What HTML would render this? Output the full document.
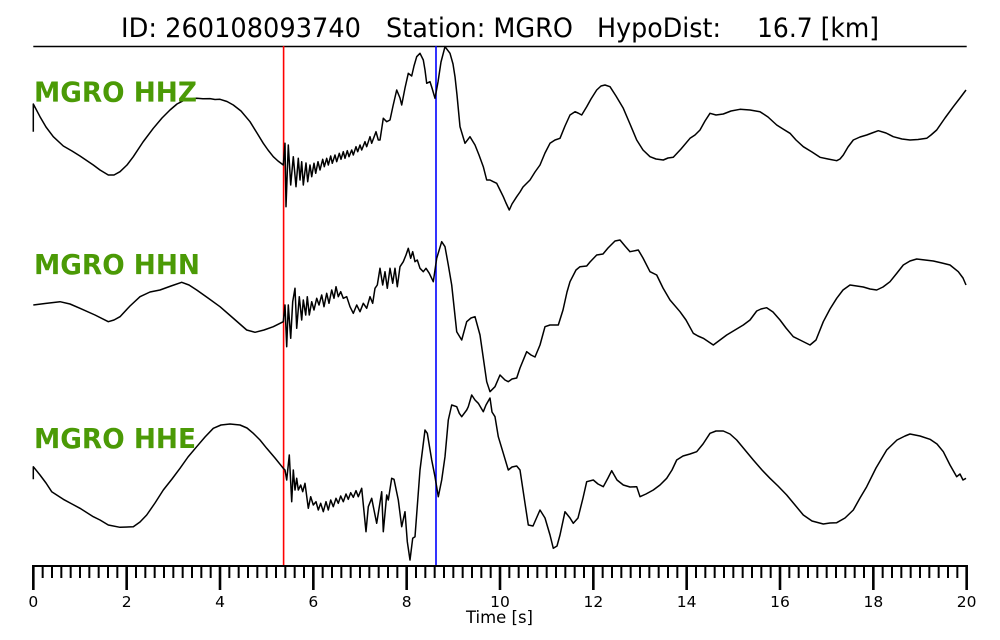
<!DOCTYPE html>
<html><head><meta charset="utf-8"><style>
html,body{margin:0;padding:0;background:#fff;}
svg{display:block;}
text{font-family:"DejaVu Sans","Liberation Sans",sans-serif;}
</style></head><body>
<svg width="1000" height="640" viewBox="0 0 1000 640" xmlns="http://www.w3.org/2000/svg">
<rect width="1000" height="640" fill="#fff"/>
<!-- title -->
<g font-size="27" fill="#000">
<text x="121" y="37" textLength="240" lengthAdjust="spacingAndGlyphs">ID: 260108093740</text>
<text x="386" y="37" textLength="187" lengthAdjust="spacingAndGlyphs">Station: MGRO</text>
<text x="597" y="37" textLength="124" lengthAdjust="spacingAndGlyphs">HypoDist:</text>
<text x="757" y="37" textLength="122" lengthAdjust="spacingAndGlyphs">16.7 [km]</text>
</g>
<line x1="33.3" y1="46.5" x2="966.7" y2="46.5" stroke="#000" stroke-width="1.5"/>

<!-- picks -->
<line x1="283.6" y1="46" x2="283.6" y2="566" stroke="#ff0000" stroke-width="1.6"/>
<line x1="436" y1="46" x2="436" y2="566" stroke="#0000ff" stroke-width="1.6"/>

<g fill="none" stroke="#000" stroke-width="1.5" stroke-linejoin="round">
<!-- HHZ -->
<path d="M33.3,131.7 L33.3,104 L40,116.7 L46,127 L53.3,136.7 L63.3,146 L72,151 L80,156 L93.3,165 L100,170 L108.3,175 L114,175 L120,171.7 L127,165 L133.3,156.7 L143,142 L153.3,128.3 L162,118 L170,110 L177,104 L183.3,100.7 L190,99 L196.7,98.3 L203,98.8 L210,98.6 L215,99.5 L220,99.3 L227,101.5 L233.3,105 L241,111 L250,121.7 L257,133 L263.3,143.3 L268,150 L273.3,156.7 L278,161 L283.3,165
L285,143.3 L286,206.7 L288.3,145 L290.7,185 L293.3,156.7 L296,186.7 L298.3,158.3 L300,180 L301.7,161.7 L303.3,185 L306,163 L307.7,181.7 L310,165 L311.7,176.7 L314,163.3 L315.7,173.3 L318,161.7 L320,170 L322.7,159.3 L324.3,166.7 L326.7,158.3 L328.3,165 L330.7,156 L332.3,163.3 L335,155 L336.7,161.7 L339.3,153.3 L341,159.3 L343.3,151.7 L345,158.3 L347.3,150.7 L349,156.7 L351.7,150 L353.3,155 L356,146.7 L357.7,151.7 L360,145 L361.7,150 L365,141.7 L366.7,146.7 L370,136.7 L371.7,143.3 L376,131.7 L378.3,140 L380,140 L383.3,118.3 L386.7,121.7 L390,120 L393,106 L396.7,90 L400,98 L401.7,105 L405,88 L408.3,73.3 L411.7,76 L414,66 L416.7,56.7 L420,53.3 L423.3,60 L425,70 L426.7,83.3 L430,81.7 L432,88 L435,98.3 L438,82 L441,62 L445,46.7 L450,53.3 L453,64 L455,76.7 L457,95 L460,126.7 L465,143.3 L470,136.7 L475,145 L479,155 L483.3,166.7 L486.7,180 L490,180 L493.3,181.7 L496.7,183.3 L500,190 L503.3,196.7 L506,203 L509.3,210 L512,204 L516.7,196.7 L520,192 L523,187 L526,184 L530,180 L535,172 L540,165 L545,153 L550,143.3 L555,140 L560,138.3 L565,126 L570,115 L575,111.7 L578,113 L581.7,115 L586.7,106.7 L591,99 L596.7,90 L601,86 L605,85 L610,86.7 L616,96 L623.3,108.3 L630,124 L636.7,140 L643,150 L650,156.7 L656,159 L663.3,160 L668,158 L673.3,157.3 L681,149 L690,138.3 L695,135 L700,130 L705,121 L710,113.3 L716,115 L723.3,114 L731,111 L740,109.3 L750,110 L760,111.7 L768,117 L776.7,125 L783,129 L790,133.3 L796,140 L803.3,146.7 L812,152 L820,157.3 L828,159 L836.7,160.7 L840,159 L843.3,155 L848,147 L853.3,140 L860,137 L866.7,135 L872,133 L878.3,130.7 L886,133 L893.3,136.7 L902,139 L910,140 L918,139.5 L926.7,138.3 L931,135 L936.7,130 L945,118 L953.3,106.7 L960,98 L966,90"/>
<!-- HHN -->
<path d="M33.3,305 L45,303.5 L60,301.7 L70,304 L80,308.3 L95,315 L108.3,321.7 L114,320 L120,316.7 L130,306 L140,296.7 L150,292 L160,290 L171,286 L181.7,282.3 L189,285 L196.7,290 L208,298 L220,306.7 L233,318 L246.7,330 L255,332.3 L264,330 L273.3,326.7 L283.3,321.7
L285,305 L286.7,346.7 L288.3,305 L290.7,338.3 L292.7,301.7 L295,288.3 L296.7,328.3 L299.3,296.7 L301.7,320 L303.3,300 L305.7,315 L307.3,296.7 L309.3,315 L311.7,301.7 L314,310 L316.7,298.3 L319,305 L321.7,295 L324,306.7 L326.7,293.3 L329,303.3 L331.7,290 L334,298.3 L336,286.7 L338.3,296.7 L340.7,291.7 L343.3,298.3 L346.7,296.7 L350,306.7 L353.3,313.3 L356.7,305 L360,311.7 L363.3,303.3 L366.7,308.3 L370,296.7 L372.7,303.3 L375,288.3 L377.3,285 L380,268.3 L382.7,285 L385,271.7 L387.3,288.3 L390,268.3 L392.7,283.3 L395,268.3 L397.3,286.7 L400,266.7 L403.3,261.7 L406,255 L408.3,248.3 L410.7,258.3 L412.7,251.7 L415,261.7 L417.3,260 L420,268.3 L423.3,271.7 L426,268.3 L429.3,273.3 L433.3,281.7 L436.7,258.3 L441.7,241.7 L445,246.7 L448.3,265 L451.7,285 L456.7,331.7 L461.7,340 L466.7,321.7 L471,318 L475,316.7 L480,335 L483.3,358 L486.7,381.7 L490,391.7 L495,386.7 L500,375 L505,380 L508.3,381.7 L512,379 L516.7,378 L520,368 L526.7,351.7 L531,355 L535,357 L540,345 L545,326.7 L550,325 L558.3,325 L563,310 L567,292 L570,281.7 L576,270 L580,266.7 L586.7,266 L590,262 L596.7,255 L603,254 L608,248 L615,241 L620,240 L625,246 L630,251.7 L638.3,250 L643,258 L650,271.7 L656.7,275 L663,288 L670,300 L680,311.7 L686,320 L693.3,333.3 L698,336 L703.3,338.3 L713.3,345 L720,340 L726.7,335 L735,330 L743.3,325 L750,320 L756.7,311 L761,309 L766.7,307.7 L773,312 L780,320 L786,328 L793.3,336.7 L800,340 L810,345 L816,340 L823.3,321.7 L830,309 L836.7,298.3 L843,290 L850,285 L856.7,286 L863.3,287 L870,289 L876.7,290 L883,287 L890,281.7 L897,273 L903.3,265 L910,261 L916.7,259 L925,260 L933.3,261 L942,263 L950,265 L958.3,271.7 L963,278 L966,285"/>
<!-- HHE -->
<path d="M33.3,479.3 L33.3,466.7 L40,475 L46,483 L51.7,491.7 L63.3,499.3 L72,504 L80,508.3 L93.3,516.7 L100,520 L108.3,525 L120,527.3 L133.3,526.7 L140,522 L146.7,515 L155,503 L163.3,490 L172,479 L180,468.3 L188,457 L196.7,446.7 L205,437 L213.3,428.3 L221,425 L230,424 L240,425 L247,428 L253.3,433.3 L260,440 L266.7,448.3 L275,458 L283.3,468.3
L285,470 L286.7,480 L289.3,455 L291.7,501.7 L293.3,470 L295,490 L296.7,478.3 L298.3,490 L300.7,485 L302.7,491.7 L305,483.3 L308.3,508.3 L310.7,496.7 L313.3,505 L316,501.7 L318.3,510 L320.7,503.3 L323.3,511.7 L326,501.7 L328.3,510 L330.7,500 L333.3,506.7 L336,498.3 L338.3,503.3 L340.7,496 L343.3,501.7 L346,494 L348.3,499.3 L350.7,492.7 L353.3,497.3 L356,490.7 L358.3,496.7 L361.7,488.3 L366,531.7 L368.3,506.7 L371.7,498.3 L374,510 L376.7,523.3 L381.7,491.7 L383.3,531.7 L386.7,495 L388.3,500 L391.7,478.3 L394,479.3 L398.3,500 L401.7,526.7 L405,511.7 L407.3,541.7 L410,560 L412.7,538.3 L415,536.7 L420,470 L425,430 L427.3,433.3 L431.7,460 L435,476.7 L438.3,496.7 L441.7,480 L445,456.7 L448.3,420 L451.7,405 L456.7,406.7 L459.3,413.3 L461.7,416.7 L466.7,410 L468.3,406.7 L471.7,395 L475,400 L478.3,403.3 L483.3,411.7 L486,405 L490,398 L492,412 L495,416.7 L498.3,436.7 L503.3,453.3 L508.3,470 L512,467 L516.7,466 L520,470 L525,503.3 L528.3,525 L533,526 L540,510 L545,518 L550,535 L553.3,548.3 L557,546 L560,535 L565,511.7 L570,518 L573.3,523.3 L578,518 L583,498 L586.7,481.7 L593.3,480 L598,484 L603.3,486.7 L608,478 L611.7,470.7 L617,480 L623.3,485 L630,487 L636.7,486.7 L640,496.7 L646,494 L653.3,490 L660,485 L666.7,478.3 L672,470 L676.7,460 L683,456 L690,454 L696.7,451.7 L703,444 L710,433.3 L716,431 L723.3,431 L730,434 L736.7,440 L745,450 L753.3,460 L762,470 L770,478.3 L778,486 L786.7,495 L795,505 L803.3,515 L812,521 L823.3,524 L830,523 L836.7,522.7 L845,518 L853.3,510 L860,498 L866.7,486.7 L876,468 L886.7,450 L897,440 L905,436 L910,434 L920,436 L930,439.3 L937,444 L943.3,451.7 L950,465 L956.7,476.7 L960,474 L963,480 L966,478.3"/>
</g>

<!-- channel labels -->
<g font-size="28" font-weight="bold" fill="#4b9a06">
<text x="34" y="101.5" textLength="163" lengthAdjust="spacingAndGlyphs">MGRO HHZ</text>
<text x="34" y="274" textLength="166" lengthAdjust="spacingAndGlyphs">MGRO HHN</text>
<text x="34" y="448" textLength="162" lengthAdjust="spacingAndGlyphs">MGRO HHE</text>
</g>

<!-- time axis -->
<line x1="32.3" y1="566" x2="967.7" y2="566" stroke="#000" stroke-width="2"/>
<path stroke="#000" stroke-width="2" fill="none" d="M42.67,566V578M52,566V578M61.33,566V578M70.67,566V578M80,566V578M89.33,566V578M98.67,566V578M108,566V578M117.33,566V578
M136,566V578M145.33,566V578M154.67,566V578M164,566V578M173.33,566V578M182.67,566V578M192,566V578M201.33,566V578M210.67,566V578
M229.33,566V578M238.67,566V578M248,566V578M257.33,566V578M266.67,566V578M276,566V578M285.33,566V578M294.67,566V578M304,566V578
M322.67,566V578M332,566V578M341.33,566V578M350.67,566V578M360,566V578M369.33,566V578M378.67,566V578M388,566V578M397.33,566V578
M416,566V578M425.33,566V578M434.67,566V578M444,566V578M453.33,566V578M462.67,566V578M472,566V578M481.33,566V578M490.67,566V578
M509.33,566V578M518.67,566V578M528,566V578M537.33,566V578M546.67,566V578M556,566V578M565.33,566V578M574.67,566V578M584,566V578
M602.67,566V578M612,566V578M621.33,566V578M630.67,566V578M640,566V578M649.33,566V578M658.67,566V578M668,566V578M677.33,566V578
M696,566V578M705.33,566V578M714.67,566V578M724,566V578M733.33,566V578M742.67,566V578M752,566V578M761.33,566V578M770.67,566V578
M789.33,566V578M798.67,566V578M808,566V578M817.33,566V578M826.67,566V578M836,566V578M845.33,566V578M854.67,566V578M864,566V578
M882.67,566V578M892,566V578M901.33,566V578M910.67,566V578M920,566V578M929.33,566V578M938.67,566V578M948,566V578M957.33,566V578"/>
<path stroke="#000" stroke-width="2.6" fill="none" d="M33.33,565V590M126.67,565V590M220,565V590M313.33,565V590M406.67,565V590M500,565V590M593.33,565V590M686.67,565V590M780,565V590M873.33,565V590M966.67,565V590"/>
<g font-size="15.5" fill="#000" text-anchor="middle">
<text x="33.33" y="607">0</text>
<text x="126.67" y="607">2</text>
<text x="220" y="607">4</text>
<text x="313.33" y="607">6</text>
<text x="406.67" y="607">8</text>
<text x="500" y="607">10</text>
<text x="593.33" y="607">12</text>
<text x="686.67" y="607">14</text>
<text x="780" y="607">16</text>
<text x="873.33" y="607">18</text>
<text x="966.67" y="607">20</text>
</g>
<text x="466" y="623" font-size="17" fill="#000" textLength="67" lengthAdjust="spacingAndGlyphs">Time [s]</text>
</svg>
</body></html>
